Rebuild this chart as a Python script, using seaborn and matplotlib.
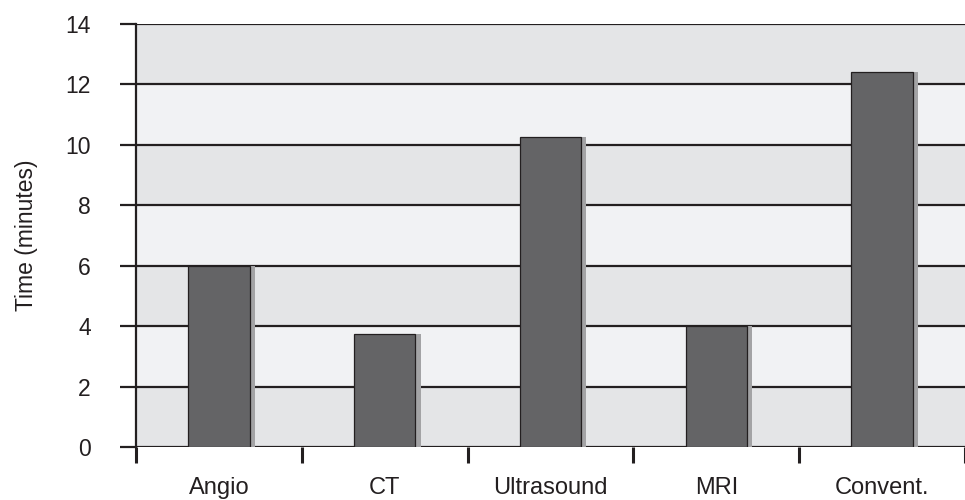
import numpy as np
import pandas as pd
import matplotlib
matplotlib.use("Agg")
import matplotlib.pyplot as plt
import seaborn as sns

# Mean time per examination type
modalities = ["Angio", "CT", "Ultrasound", "MRI", "Convent."]
minutes = [6.0, 3.75, 10.25, 4.0, 12.4]
y_ticks = [0, 2, 4, 6, 8, 10, 12, 14]

df = pd.DataFrame({"modality": modalities, "minutes": minutes})

sns.set_theme(style="white")
plt.rcParams["font.family"] = ["Liberation Sans", "DejaVu Sans"]

ink = "#231f20"
band_dark = "#e4e5e7"
band_light = "#f1f2f4"
bar_face = "#646466"
bar_shadow = "#a3a3a5"

fig = plt.figure(figsize=(9.65, 5.0), dpi=100)
ax = fig.add_axes([136 / 965, 53 / 500, 829 / 965, 423 / 500])

# alternating horizontal bands between gridlines
for i, (lo, hi) in enumerate(zip(y_ticks[:-1], y_ticks[1:])):
    ax.axhspan(lo, hi, color=band_dark if i % 2 == 0 else band_light, zorder=0, lw=0)
for y in y_ticks:
    ax.axhline(y, color=ink, lw=1.6, zorder=1)

bar_width = 0.37
# soft drop shadow to the right of each bar
ax.bar(np.arange(len(modalities)) + 0.032, minutes, width=bar_width,
       color=bar_shadow, lw=0, zorder=2)

sns.barplot(data=df, x="modality", y="minutes", order=modalities,
            color=bar_face, width=bar_width, saturation=1,
            edgecolor=ink, linewidth=0.9, ax=ax, zorder=3)

ax.set_ylim(0, 14)
ax.set_xlim(-0.5, -0.5 + 829 / 166.5)
ax.set_yticks(y_ticks)
ax.set_yticklabels([str(v) for v in y_ticks])

# category boundaries as major ticks, names on minor ticks at centres
n = len(modalities)
ax.set_xticks(np.arange(n + 1) - 0.5)
ax.set_xticklabels([])
ax.set_xticks(np.arange(n), minor=True)
ax.set_xticklabels(modalities, minor=True)

ax.tick_params(axis="x", which="major", direction="out", length=11.5, width=2.2,
               color=ink, bottom=True)
ax.tick_params(axis="x", which="minor", length=0, pad=21.5, labelsize=17,
               colors=ink)
ax.tick_params(axis="y", direction="out", length=11.5, width=1.6, color=ink,
               left=True, pad=21, labelsize=16.5, labelcolor=ink)

for side in ["top", "right", "bottom"]:
    ax.spines[side].set_visible(False)
ax.spines["left"].set_color(ink)
ax.spines["left"].set_linewidth(1.6)
ax.spines["left"].set_zorder(4)

ax.set_xlabel("")
ax.set_ylabel("Time (minutes)", fontsize=16.5, color=ink, labelpad=20)
ax.grid(False)

fig.savefig("out.png", dpi=100)
